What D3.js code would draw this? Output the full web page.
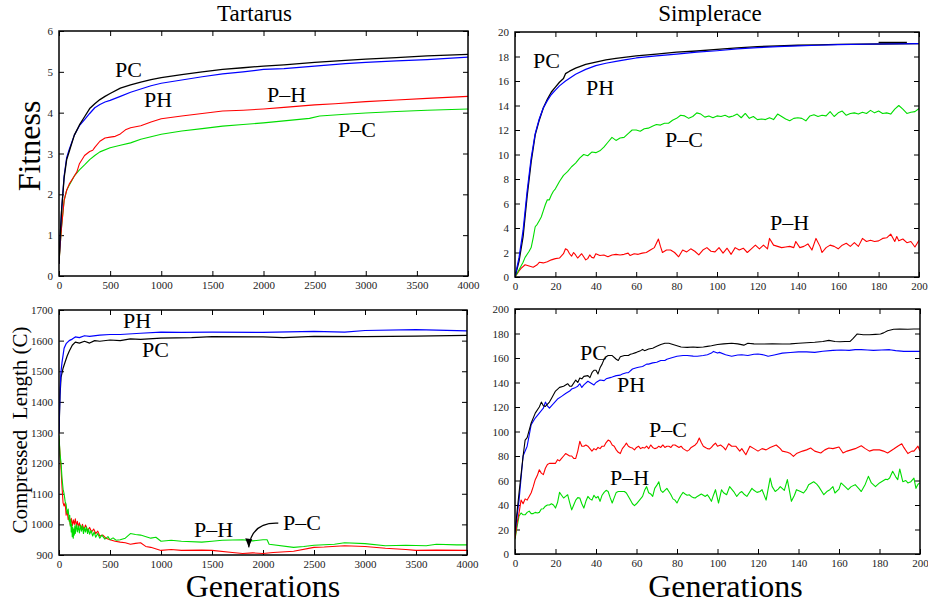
<!DOCTYPE html>
<html><head><meta charset="utf-8">
<script src="https://cdn.jsdelivr.net/npm/d3@7"></script>
<style>
html,body{margin:0;padding:0;background:#fff;}
svg{display:block;font-family:"Liberation Serif","Times New Roman",serif;}
svg text{font-family:"Liberation Serif","Times New Roman",serif;}
</style></head>
<body><svg id="chart" width="928" height="605"></svg>
<script>
// ---------- tick values ----------
const tartGenTicks = [0,500,1000,1500,2000,2500,3000,3500,4000];
const simpGenTicks = [0,20,40,60,80,100,120,140,160,180,200];
const tartFitTicks = [0,1,2,3,4,5,6];
const simpFitTicks = [0,2,4,6,8,10,12,14,16,18,20];
const tartLenTicks = [900,1000,1100,1200,1300,1400,1500,1600,1700];
const simpLenTicks = [0,20,40,60,80,100,120,140,160,180,200];

// ---------- Tartarus fitness [generation, value] ----------
const tartFitPC = [[0,0.3],[10,0.9],[25,1.6],[50,2.4],[75,2.85],[100,3.05],[150,3.45],[200,3.7],[250,3.9],[300,4.1],[350,4.22],[400,4.32],[450,4.4],[500,4.47],[600,4.6],[700,4.68],[800,4.75],[900,4.81],[1000,4.86],[1200,4.93],[1400,5.0],[1600,5.06],[1800,5.1],[2000,5.14],[2200,5.17],[2500,5.23],[2800,5.28],[3000,5.31],[3300,5.35],[3600,5.39],[4000,5.43]];
const tartFitPH = [[0,0.3],[10,0.9],[25,1.6],[50,2.45],[75,2.9],[100,3.1],[150,3.45],[200,3.68],[250,3.83],[300,3.98],[350,4.12],[400,4.2],[450,4.26],[500,4.3],[600,4.4],[700,4.5],[800,4.58],[900,4.66],[1000,4.72],[1200,4.8],[1400,4.88],[1600,4.95],[1800,5.0],[2000,5.06],[2200,5.08],[2500,5.14],[2800,5.2],[3000,5.23],[3300,5.27],[3600,5.3],[4000,5.36]];
const tartFitPmH = [[0,0.3],[10,0.7],[25,1.2],[50,1.85],[75,2.1],[100,2.25],[150,2.45],[175,2.55],[200,2.75],[250,2.95],[300,3.05],[330,3.08],[350,3.15],[400,3.3],[450,3.38],[500,3.4],[550,3.42],[600,3.48],[650,3.58],[700,3.63],[800,3.68],[900,3.77],[1000,3.85],[1200,3.92],[1400,3.98],[1600,4.04],[1800,4.06],[2000,4.09],[2200,4.13],[2500,4.19],[2700,4.22],[3000,4.27],[3300,4.31],[3600,4.35],[4000,4.4]];
const tartFitPmC = [[0,0.3],[10,0.7],[25,1.2],[50,1.85],[75,2.1],[100,2.22],[150,2.45],[200,2.6],[250,2.72],[300,2.85],[350,2.95],[400,3.04],[500,3.14],[600,3.2],[700,3.26],[800,3.35],[900,3.41],[1000,3.47],[1200,3.55],[1400,3.61],[1600,3.67],[1800,3.71],[2000,3.75],[2200,3.8],[2450,3.86],[2550,3.92],[2800,3.96],[3000,3.99],[3300,4.03],[3600,4.06],[4000,4.09]];

// ---------- Simplerace fitness ----------
const simpFitPC = [[0,0],[2,1.3],[4,3.3],[6,6.6],[8,9.4],[10,11.6],[12,12.8],[14,13.8],[16,14.5],[18,15.1],[20,15.5],[22,15.9],[24,16.2],[25,16.6],[27,16.8],[30,17.05],[35,17.35],[40,17.55],[45,17.72],[50,17.85],[55,17.95],[60,18.05],[70,18.2],[80,18.35],[90,18.45],[100,18.58],[110,18.7],[120,18.8],[130,18.87],[140,18.92],[150,18.95],[160,18.99],[180,19.02],[200,19.05]];
const simpFitPH = [[0,0],[2,1.6],[4,3.8],[6,7.0],[8,9.7],[10,11.7],[12,12.9],[14,13.8],[16,14.4],[18,14.9],[20,15.25],[22,15.6],[25,16.0],[30,16.55],[35,16.95],[40,17.25],[45,17.45],[50,17.6],[55,17.75],[60,17.88],[70,18.05],[80,18.2],[90,18.35],[100,18.47],[110,18.62],[120,18.72],[130,18.8],[140,18.87],[150,18.92],[160,18.97],[180,19.02],[200,19.05]];
const simpFitKey = [[180,19.15],[194,19.15]];
const simpFitPmC = [[0,0],[2,0.6],[4,1.2],[5,1.6],[7,2.1],[8,2.4],[9,3.2],[10,4.1],[11,4.3],[12,4.6],[13,4.9],[14,5.4],[15,5.9],[16,6.3],[17,6.3],[18,6.7],[19,7.0],[20,7.2],[22,7.8],[24,8.3],[26,8.6],[28,9.0],[30,9.3],[32,9.7],[34,10.0],[36,9.9],[38,10.2],[40,10.15],[42,10.3],[44,10.6],[46,11.0],[48,11.4],[50,11.15],[52,11.35],[54,11.4],[56,11.7],[58,12.0],[60,12.0],[62,11.9],[64,12.1],[66,12.15],[68,12.3],[70,12.45],[72,12.4],[74,12.55],[76,12.55],[78,12.8],[80,12.95],[82,13.2],[84,13.15],[86,12.95],[88,13.1],[90,13.4],[92,13.3],[94,13.05],[96,13.15],[98,13.0],[100,13.15],[102,13.1],[104,13.2],[106,13.05],[108,13.15],[110,13.3],[112,13.0],[114,13.35],[116,12.95],[118,13.1],[120,12.85],[122,12.9],[124,12.85],[126,13.0],[128,12.85],[130,13.3],[132,13.1],[134,12.9],[136,12.75],[138,12.95],[140,13.0],[142,12.95],[144,12.75],[146,13.15],[148,13.25],[150,13.1],[152,13.2],[154,13.15],[156,13.5],[158,13.1],[160,13.4],[162,13.55],[164,13.2],[166,13.35],[168,13.4],[170,13.3],[172,13.45],[174,13.35],[176,13.6],[178,13.4],[180,13.55],[182,13.35],[184,13.4],[186,13.3],[188,13.7],[190,14.0],[192,13.7],[194,13.35],[196,13.45],[198,13.5],[200,13.75]];
const simpFitPmH = [[0,0],[2,0.5],[3,0.7],[5,1.0],[7,0.9],[9,0.8],[11,1.0],[12,1.2],[14,1.15],[16,1.25],[18,1.4],[20,1.5],[22,1.55],[24,1.9],[25,2.3],[26,2.2],[27,1.9],[28,1.7],[29,2.0],[30,1.8],[31,1.55],[33,1.9],[34,1.65],[35,1.4],[36,1.5],[37,1.8],[38,1.6],[39,1.55],[40,1.9],[42,1.75],[44,1.8],[46,1.65],[48,1.8],[50,1.85],[52,1.8],[54,1.85],[56,1.95],[57,1.75],[59,1.9],[61,1.85],[63,1.95],[65,2.0],[67,2.2],[69,2.4],[71,3.1],[72,2.5],[73,2.0],[75,2.2],[77,2.2],[79,2.0],[81,1.65],[83,2.2],[85,2.05],[87,2.3],[89,2.1],[91,1.8],[93,2.2],[95,2.4],[97,2.1],[99,2.05],[101,2.4],[103,1.95],[105,2.35],[107,1.85],[109,2.4],[111,2.2],[113,2.35],[115,2.0],[117,2.3],[119,2.6],[121,2.3],[123,2.6],[125,2.3],[126,3.15],[128,2.6],[130,2.5],[132,2.4],[134,2.45],[136,2.5],[138,2.4],[139,2.9],[141,2.4],[143,2.5],[145,2.7],[147,2.2],[149,3.15],[151,2.5],[152,2.0],[154,2.4],[156,2.6],[158,2.5],[160,2.3],[162,2.6],[164,2.75],[166,2.5],[168,2.8],[170,2.5],[172,3.15],[174,2.9],[176,3.0],[178,2.9],[180,2.95],[182,3.15],[184,3.2],[186,3.5],[187,3.2],[188,2.9],[189,3.3],[190,2.95],[192,3.1],[194,2.8],[196,2.9],[198,2.45],[200,3.0]];

// ---------- Tartarus compressed length ----------
const tartLenPH = [[0,1300],[10,1440],[20,1500],[30,1530],[50,1575],[70,1590],[100,1600],[130,1605],[160,1612],[200,1610],[250,1616],[300,1614],[400,1618],[500,1620],[600,1620],[800,1624],[1000,1628],[1200,1627],[1500,1628],[2000,1627],[2500,1630],[2800,1628],[3000,1633],[3500,1636],[4000,1632]];
const tartLenPC = [[0,1300],[10,1420],[20,1480],[40,1510],[60,1530],[80,1550],[100,1565],[130,1585],[160,1595],[200,1592],[250,1598],[300,1592],[350,1600],[400,1598],[500,1602],[600,1600],[700,1606],[800,1604],[1000,1608],[1300,1610],[1500,1613],[2000,1612],[2200,1610],[2500,1614],[3000,1613],[3500,1615],[4000,1617]];
const tartLenGreen = [[0,1290],[10,1230],[20,1200],[30,1150],[40,1115],[50,1100],[60,1075],[70,1065],[80,1035],[90,1050],[100,1010],[105,1030],[110,995],[115,1015],[120,975],[125,1000],[130,960],[135,990],[140,955],[145,985],[150,965],[155,995],[160,970],[170,1000],[180,975],[190,995],[200,972],[210,998],[220,978],[230,995],[240,970],[250,990],[260,975],[270,992],[280,970],[290,985],[300,968],[315,980],[330,962],[345,975],[360,958],[380,970],[400,955],[420,965],[450,952],[480,960],[500,950],[530,956],[560,948],[600,950],[650,955],[700,970],[750,967],[800,965],[900,955],[950,958],[1000,945],[1100,948],[1200,945],[1400,942],[1500,945],[1600,948],[1800,950],[1900,946],[2000,950],[2040,950],[2060,935],[2300,925],[2400,928],[2500,932],[2700,935],[2800,940],[3000,937],[3200,930],[3400,932],[3600,930],[3700,935],[3900,933],[4000,933]];
const tartLenRed = [[0,1280],[10,1230],[20,1180],[30,1120],[40,1070],[50,1060],[60,1070],[70,1030],[80,1045],[90,1015],[100,1025],[110,1000],[120,1020],[130,995],[140,1015],[150,1000],[160,1018],[170,995],[180,1010],[190,990],[200,1005],[215,985],[230,1000],[245,982],[260,998],[280,980],[300,990],[320,975],[340,985],[360,970],[380,978],[400,962],[430,965],[460,955],[500,950],[550,945],[600,942],[650,940],[700,935],[750,938],[800,940],[850,928],[900,925],[1000,915],[1100,918],[1200,915],[1400,916],[1500,915],[1700,908],[1800,905],[1900,907],[2000,905],[2100,908],[2300,912],[2500,925],[2600,926],[2800,930],[3000,928],[3200,922],[3400,918],[3500,915],[3700,916],[4000,915]];

// ---------- Simplerace compressed length ----------
const simpLenPC = [[0,18.5],[2,50],[4,80],[5,93],[6,95],[8,107],[10,115],[12,120],[13,124],[14,121],[15,120.5],[17,124],[18,127],[20,133],[22,136],[24,137],[26,139],[27,137],[28,137],[30,142],[31,140],[32,143.7],[33,143],[34,145],[36,145.6],[37,144],[38,148],[39,150],[40,150],[41,147],[42,152],[43,155],[44,159],[45,161],[46,162],[48,162],[50,159],[51,158],[52,161],[54,162],[56,162],[57,163],[58,163.5],[60,164.6],[62,166],[63,167],[64,166],[66,167.3],[68,168],[70,169.5],[72,171],[74,172],[76,172],[78,171],[80,170],[82,169],[85,168.7],[88,169],[90,168.7],[93,169],[95,169.5],[97,170],[100,171],[103,171.5],[107,172],[110,171.5],[113,170.5],[115,172],[118,171.5],[123,171.4],[127,171.5],[132,171.4],[136,171.5],[140,172],[144,172.5],[148,172.8],[152,173.5],[155,174.4],[158,173.5],[160.5,173.3],[163,173.5],[165.5,173.6],[167,176],[169,179.6],[172,179],[175,179],[178,179.3],[180.5,179.6],[182,180.5],[184,182.3],[187,183.5],[190,183.7],[194,183.5],[197,183.7],[200,183.7]];
const simpLenPH = [[0,17],[2,44],[4,80],[6,88],[8,105.6],[10,111],[12,115],[14,119],[15,124],[16,121],[17,119],[18,121],[19,122.7],[21,126.5],[23,128.7],[25,131],[27,133],[28,134.7],[30,136],[31,137],[32,139],[33,136],[34,138],[36,141],[37,140],[39,138],[40,140],[42,142],[44,141.5],[45,143],[47,144],[48,144.5],[50,145.6],[52,146],[53,147],[55,148],[56,148],[58,151],[60,152],[61,152.5],[63,153],[65,155],[66,155],[68,156],[70,156.5],[72,158],[74,158],[75,159],[77,160],[80,161.4],[83,162],[85,162],[88,161.5],[90,161.4],[93,162],[95,162.7],[97,164],[98,165.4],[100,164],[101,164.6],[104,162.7],[107,161.4],[110,162.5],[112,162.7],[115,162],[118,163],[120,163.3],[123,162.5],[125,161.4],[128,162.5],[132,164],[136,164.5],[140,165],[144,165],[148,164.6],[152,165.5],[157,166.2],[161,166.5],[165,166.2],[168,166.8],[171,166.8],[174,166.5],[177,166.2],[181,166.5],[185,166.8],[188,166],[192,165.4],[196,165.5],[200,165.4]];
const simpLenRed = [[0,13],[1,25],[2,33.5],[3,44],[4,41],[5,45],[6,44],[7,47],[8,50],[9,55],[10,60.7],[11,64],[12,68.8],[13,66],[14,64.8],[15,70],[16,73],[17,74],[18,74],[19,74],[20,74],[21,77],[22,76],[23,78],[24,80],[25,82],[26,81],[27,80],[28,80],[29,78],[30,78],[31,84],[32,92],[33,88],[34,88],[35,89],[36,88],[37,86],[38,84],[39,86],[40,85],[41,87],[42,86],[43,88],[44,88],[45,91],[46,93],[47,92],[48,89],[49,88],[50,85],[51,83],[52,82],[53,86],[54,88],[55,90.5],[56,88],[57,87],[58,86.5],[59,85],[60,87],[61,88],[62,86],[63,87],[64,86.5],[65,88],[66,86],[67,89],[68,87],[69,86],[70,86.5],[71,88],[72,87],[73,89],[74,87],[75,88],[76,88],[77,87],[78,89],[79,89],[80,88],[81,87],[82,88],[83,86],[84,85],[85,84],[86,85],[87,87],[88,88],[89,89],[90,91],[91,94.7],[92,91],[93,88],[94,87],[95,86],[96,85.7],[97,87],[98,89],[99,90.5],[100,88],[101.5,89],[103,87],[104,85],[105.5,90],[107,88],[109,88],[111,84],[112,86],[114,81],[116,88],[118,86],[120,84],[122,86],[124,85],[126,87],[129,89],[131,86],[132,84],[134.5,83],[136,82],[137.5,79.7],[139,82],[142,84],[144,85],[146,86.5],[148,84],[151,82.5],[153,85],[155,86.5],[157,86],[160,87.3],[162,82.5],[164,84],[166,85],[168,86],[171,88.4],[173,86],[175,84],[177,85],[180,85],[182,84],[184,82.5],[187,85.7],[189,88],[191,90],[192,87],[194,82],[196,84],[197,84],[199,88],[200,84]];
const simpLenGreen = [[0,12],[1,22],[2,31],[3,33.5],[4,32],[5,32],[6,34],[7,35],[8,33],[9,33],[10,34],[11,33.5],[12,34],[13,36.7],[14,37],[15,39],[16,40],[17,40],[18,41],[19,40],[20,37.5],[21,42],[22,50.3],[23,48],[24,45.7],[25,47],[26,48.4],[27,42],[28,36],[29,40],[30,44],[31,46],[32,45.7],[33,41],[34,37.5],[35,43],[36,47],[37,45],[38,44],[39,48],[40,45.7],[41,47],[42,43],[43,48],[44,50.3],[45,52],[46,51],[47,46],[48,41.6],[49,46],[50,50.3],[51,51],[52,51],[53,51],[54,51],[55,49.8],[56,47],[57,44],[58,41],[59,39.5],[60,41],[61,43],[62,45],[63,47],[64,52],[65,55],[66,50],[67,49],[68,47],[69,53.6],[70,56],[71,59],[72,52],[73,50.3],[74,52],[75,53.6],[76,51],[77,48.4],[78,45],[79,44],[80,41.6],[81,45],[82,48],[83,50.3],[84,49],[85,48],[86,48.4],[87,47],[88,46],[89,45.7],[90,47],[91,48],[92,49],[93,48],[94,47],[95,48.4],[96,46],[97,43],[98,48],[99,52.5],[100.5,41.6],[102,52.5],[103,50],[104.5,48.4],[106,55],[108,51],[109.5,47],[111,50],[112,51],[113,49],[114.5,47],[117,53.6],[118,52],[119.5,50.3],[121,51],[122,52.5],[124,44],[126,62],[127,55],[128.5,51],[130,53],[131,55],[133,52],[134.5,60.7],[136.5,43],[138,48],[139,52.5],[141,51],[142.5,49.8],[144,53],[145,56.6],[147.5,59],[149,57],[150,55],[152.5,48.4],[154,51],[155.5,52.5],[157,55],[158,49.8],[160,53],[161,58],[163,55],[164.5,52.5],[166,55],[168,56.6],[170,53],[171,51],[173,57],[174.5,63.4],[176,58],[178,55],[180,58],[181,59],[183,61],[184,60.7],[185,62],[186.5,67.5],[188,63],[189,60.7],[190,69.4],[191.5,59],[193,60],[194,58],[195.5,59],[197,62],[198,53.6],[199,57],[200,58]];

// ---------- drawing ----------
const svg = d3.select("#chart");
const COL = {black:"#000000", blue:"#0000ff", red:"#ff0000", green:"#00dd00"};
const SERIF = '"Liberation Serif","Times New Roman",serif';
const fmt = d3.format("d");

function panel(cfg){
  const x = d3.scaleLinear().domain(cfg.xDomain).range([cfg.left, cfg.right]);
  const y = d3.scaleLinear().domain(cfg.yDomain).range([cfg.bottom, cfg.top]);
  const g = svg.append("g");
  const clipId = "clip" + cfg.id;
  svg.append("clipPath").attr("id", clipId).append("rect")
    .attr("x", cfg.left).attr("y", cfg.top).attr("width", cfg.right-cfg.left).attr("height", cfg.bottom-cfg.top);

  const axStyle = sel => {
    sel.attr("font-family", null).style("font-family", SERIF).attr("font-size", null);
    sel.select(".domain").remove();
    sel.selectAll("line").attr("stroke","#000").attr("stroke-width",1);
    sel.selectAll("text").style("font-family",SERIF).style("font-size","11px").attr("fill","#222");
  };
  g.append("g").attr("transform",`translate(0,${cfg.bottom})`)
    .call(d3.axisBottom(x).tickValues(cfg.xTicks).tickFormat(fmt).tickSize(-5).tickPadding(5)).call(axStyle);
  g.append("g").attr("transform",`translate(0,${cfg.top})`)
    .call(d3.axisTop(x).tickValues(cfg.xTicks).tickSize(-5).tickFormat("")).call(axStyle);
  g.append("g").attr("transform",`translate(${cfg.left},0)`)
    .call(d3.axisLeft(y).tickValues(cfg.yTicks).tickFormat(fmt).tickSize(-5).tickPadding(6)).call(axStyle);
  g.append("g").attr("transform",`translate(${cfg.right},0)`)
    .call(d3.axisRight(y).tickValues(cfg.yTicks).tickSize(-5).tickFormat("")).call(axStyle);

  const line = d3.line().x(d=>x(d[0])).y(d=>y(d[1]));
  const lg = g.append("g").attr("clip-path",`url(#${clipId})`);
  cfg.series.forEach(s=>{
    lg.append("path").datum(s.data).attr("d",line)
      .attr("fill","none").attr("stroke",COL[s.color]).attr("stroke-width",s.w||1.1)
      .attr("stroke-linejoin","round");
  });
  g.append("rect").attr("x",cfg.left).attr("y",cfg.top)
    .attr("width",cfg.right-cfg.left).attr("height",cfg.bottom-cfg.top)
    .attr("fill","none").attr("stroke","#000").attr("stroke-width",1.5);

  cfg.labels.forEach(l=>{
    g.append("text").attr("x",x(l.at[0])).attr("y",y(l.at[1]))
      .attr("font-size",22).attr("fill","#000").text(l.text);
  });
  if (cfg.title) {
    g.append("text").attr("x",(cfg.left+cfg.right)/2 + (cfg.titleShift||0)).attr("y",21)
      .attr("text-anchor","middle").attr("font-size",23).text(cfg.title);
  }
  if (cfg.xLabel) {
    g.append("text").attr("x",(cfg.left+cfg.right)/2 + (cfg.xLabelShift||0)).attr("y",597)
      .attr("text-anchor","middle").attr("font-size",32).text(cfg.xLabel);
  }
  if (cfg.arrow) {
    const a = cfg.arrow;
    const p = d3.path();
    p.moveTo(x(a.from[0]), y(a.from[1]));
    p.quadraticCurveTo(x(a.ctrl[0]), y(a.ctrl[1]), x(a.to[0]), y(a.to[1]));
    g.append("path").attr("d",p.toString()).attr("fill","none").attr("stroke","#000").attr("stroke-width",1.2);
    const tx = x(a.to[0]), ty = y(a.to[1]);
    g.append("path").attr("d",`M${tx},${ty} L${tx-3.5},${ty-9} L${tx+3.5},${ty-8} Z`).attr("fill","#000");
  }
  return {x,y};
}

panel({id:1, left:59, right:468, top:31, bottom:276, titleShift:-9,
  xDomain:[0,4000], yDomain:[0,6], xTicks:tartGenTicks, yTicks:tartFitTicks, title:"Tartarus",
  series:[{data:tartFitPmC,color:"green"},{data:tartFitPmH,color:"red"},{data:tartFitPH,color:"blue",w:1.2},{data:tartFitPC,color:"black",w:1.3}],
  labels:[{text:"PC",at:[548,4.87]},{text:"PH",at:[831,4.14]},{text:"P\u2013H",at:[2034,4.26]},{text:"P\u2013C",at:[2729,3.40]}]});

panel({id:2, left:515, right:919, top:32, bottom:277, titleShift:-7,
  xDomain:[0,200], yDomain:[0,20], xTicks:simpGenTicks, yTicks:simpFitTicks, title:"Simplerace",
  series:[{data:simpFitPmH,color:"red"},{data:simpFitPmC,color:"green"},{data:simpFitPC,color:"black",w:1.3},{data:simpFitPH,color:"blue",w:1.2},{data:simpFitKey,color:"black",w:1.3}],
  labels:[{text:"PC",at:[8.9,17.06]},{text:"PH",at:[35.1,14.86]},{text:"P\u2013C",at:[74.3,10.6]},{text:"P\u2013H",at:[126.2,3.84]}]});

panel({id:3, left:59, right:467, top:310, bottom:555,
  xDomain:[0,4000], yDomain:[900,1700], xTicks:tartGenTicks, yTicks:tartLenTicks, xLabel:"Generations", xLabelShift:0,
  series:[{data:tartLenRed,color:"red"},{data:tartLenGreen,color:"green"},{data:tartLenPC,color:"black",w:1.2},{data:tartLenPH,color:"blue",w:1.2}],
  labels:[{text:"PH",at:[627,1641]},{text:"PC",at:[814,1546.5]},{text:"P\u2013H",at:[1324,958.8]},{text:"P\u2013C",at:[2196,981.6]}],
  arrow:{from:[2150,1004],ctrl:[1890,1008],to:[1860,925]}});

panel({id:4, left:515, right:920, top:309, bottom:554,
  xDomain:[0,200], yDomain:[0,200], xTicks:simpGenTicks, yTicks:simpLenTicks, xLabel:"Generations", xLabelShift:8,
  series:[{data:simpLenGreen,color:"green"},{data:simpLenRed,color:"red"},{data:simpLenPH,color:"blue"},{data:simpLenPC,color:"black"}],
  labels:[{text:"PC",at:[32.1,158.6]},{text:"PH",at:[50.4,132.5]},{text:"P\u2013C",at:[66.2,95.8]},{text:"P\u2013H",at:[46.9,56.6]}]});

// y-axis titles
svg.append("text").attr("transform","translate(40,146) rotate(-90)")
  .attr("text-anchor","middle").attr("font-size",32).text("Fitness");
svg.append("text").attr("transform","translate(27,430) rotate(-90)")
  .attr("text-anchor","middle").attr("font-size",21).attr("xml:space","preserve").text("Compressed  Length (C)");
</script></body></html>
